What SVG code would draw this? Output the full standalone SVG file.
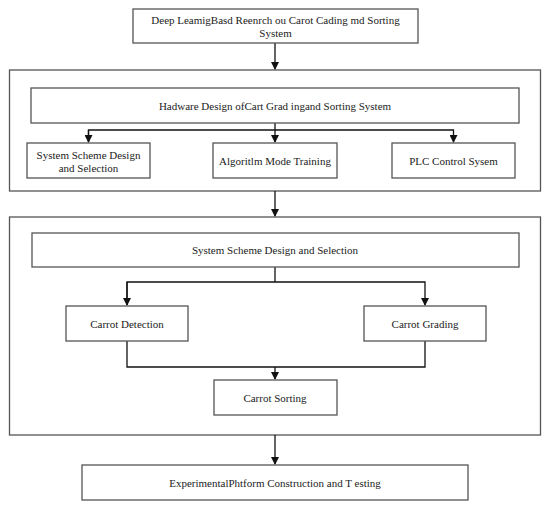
<svg xmlns="http://www.w3.org/2000/svg" width="550" height="510" viewBox="0 0 550 510">
<style>
.box{fill:#fff;stroke:#555;stroke-width:1.3}
.frame{fill:none;stroke:#555;stroke-width:1.3}
.t{font-family:"Liberation Serif","Times New Roman",serif;font-size:11px;fill:#222;text-anchor:middle}
.c{fill:none;stroke:#111;stroke-width:1.3}
</style>
<defs>
<marker id="ah" markerWidth="8" markerHeight="8" refX="7" refY="4" orient="auto" markerUnits="userSpaceOnUse">
<path d="M0,0 L8,4 L0,8 Z" fill="#111"/>
</marker>
</defs>
<rect x="0" y="0" width="550" height="510" fill="#fff"/>
<g id="frame1"><rect class="frame" x="9.5" y="70" width="531" height="121"/></g>
<g id="frame2"><rect class="frame" x="9.5" y="217" width="531" height="218"/></g>
<g id="connectors">
<path class="c" d="M275,43 V69" marker-end="url(#ah)"/>
<path class="c" d="M275,123 V142" marker-end="url(#ah)"/>
<path class="c" d="M88.5,142 V130 H453.5 V142" marker-end="url(#ah)"/>
<path class="c" d="M88.5,130 V142" marker-end="url(#ah)"/>
<path class="c" d="M275,191 V216" marker-end="url(#ah)"/>
<path class="c" d="M275,267 V282"/>
<path class="c" d="M127,305 V282 H425 V305" marker-end="url(#ah)"/>
<path class="c" d="M127,282 V305" marker-end="url(#ah)"/>
<path class="c" d="M127,341 V367 H425 V341"/>
<path class="c" d="M275,367 V379" marker-end="url(#ah)"/>
<path class="c" d="M275,435 V464" marker-end="url(#ah)"/>
</g>
<g id="top"><rect class="box" x="133" y="9" width="285" height="34"/>
<text class="t" x="275.5" y="24">Deep LeamigBasd Reenrch ou Carot Cading md Sorting</text>
<text class="t" x="275.5" y="37">System</text></g>
<g id="hw"><rect class="box" x="31" y="88" width="488" height="35"/>
<text class="t" x="275" y="109.5">Hadware Design ofCart Grad ingand Sorting System</text></g>
<g id="sys1"><rect class="box" x="27" y="143" width="123" height="35"/>
<text class="t" x="88.5" y="159">System Scheme Design</text>
<text class="t" x="88.5" y="171.5">and Selection</text></g>
<g id="algo"><rect class="box" x="213" y="143" width="124" height="35"/>
<text class="t" x="275" y="165">Algoritlm Mode Training</text></g>
<g id="plc"><rect class="box" x="392" y="143" width="123" height="35"/>
<text class="t" x="453.5" y="165">PLC Control Sysem</text></g>
<g id="sys2"><rect class="box" x="32" y="233" width="487" height="34"/>
<text class="t" x="275" y="254">System Scheme Design and Selection</text></g>
<g id="detect"><rect class="box" x="66" y="306" width="122" height="35"/>
<text class="t" x="127" y="327.5">Carrot Detection</text></g>
<g id="grade"><rect class="box" x="364" y="306" width="122" height="35"/>
<text class="t" x="425" y="327.5">Carrot Grading</text></g>
<g id="sort"><rect class="box" x="214" y="380" width="123" height="35"/>
<text class="t" x="275" y="401.5">Carrot Sorting</text></g>
<g id="exp"><rect class="box" x="82" y="465" width="386" height="35"/>
<text class="t" x="275" y="486.5">ExperimentalPhtform Construction and T esting</text></g>
</svg>
